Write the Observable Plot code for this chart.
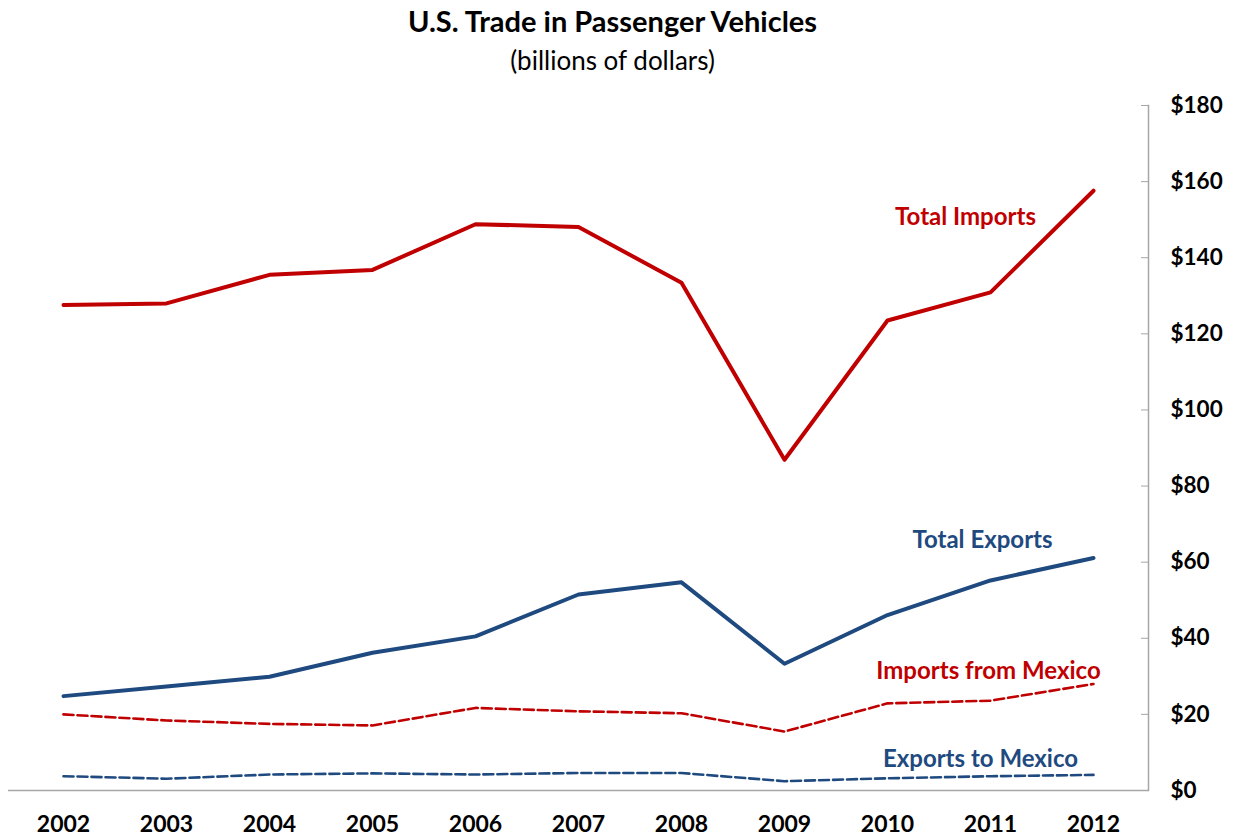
<!DOCTYPE html>
<html>
<head>
<meta charset="utf-8">
<script src="https://cdn.jsdelivr.net/npm/d3@7"></script>
<script src="https://cdn.jsdelivr.net/npm/@observablehq/plot@0.6"></script>
<style>
  html, body { margin: 0; padding: 0; background: #fff; }
  #wrap { width: 1233px; height: 837px; position: relative; font-family: Lato, "Liberation Sans", sans-serif; }
  #head { height: 85px; position: relative; }
  #title { position: absolute; left: 0; width: 1225px; top: 3px; line-height: 36px; text-align: center; font-weight: bold; font-size: 29px; color: #000; }
  #sub { position: absolute; left: 0; width: 1225px; top: 44px; line-height: 32px; text-align: center; font-size: 26px; color: #000; }
  svg { display: block; }
</style>
</head>
<body>
<div id="wrap">
  <div id="head">
    <div id="title">U.S. Trade in Passenger Vehicles</div>
    <div id="sub">(billions of dollars)</div>
  </div>
  <div id="chart"></div>
</div>
<script>
const years = ["2002","2003","2004","2005","2006","2007","2008","2009","2010","2011","2012"];
const totalImports  = [127.6, 128.0, 135.5, 136.8, 148.8, 148.1, 133.4, 86.9, 123.5, 130.9, 157.6];
const totalExports  = [24.8, 27.3, 29.9, 36.2, 40.5, 51.5, 54.7, 33.3, 46.1, 55.2, 61.1];
const importsMexico = [20.0, 18.4, 17.5, 17.1, 21.7, 20.8, 20.3, 15.5, 22.9, 23.6, 28.0];
const exportsMexico = [3.75, 3.1, 4.2, 4.5, 4.2, 4.6, 4.6, 2.45, 3.2, 3.75, 4.1];
const seriesNames = ["Total Imports", "Total Exports", "Imports from Mexico", "Exports to Mexico"];
const labelYear = "2011";
const labelValues = [150.6, 65.7, 31.3, 8.1];
const yTicks = [0, 20, 40, 60, 80, 100, 120, 140, 160, 180];

const RED = "#c00000";
const BLUE = "#1f4a80";
const GRID = "#a6a6a6";

const rows = (vals) => years.map((y, i) => ({year: y, value: vals[i]}));

const chart = Plot.plot({
  width: 1233,
  height: 752,
  marginTop: 20,
  marginBottom: 47,
  marginLeft: 8,
  marginRight: 85,
  style: {fontFamily: "Lato, 'Liberation Sans', sans-serif", background: "white"},
  x: {type: "point", domain: years, padding: 0.5, label: null},
  y: {domain: [0, 180], label: null},
  marks: [
    Plot.ruleY([0], {stroke: GRID, strokeWidth: 1.5}),
    Plot.frame({anchor: "right", stroke: GRID, strokeWidth: 1.5}),
    Plot.axisY({anchor: "right", ticks: yTicks, tickSize: 8, dx: -8, tickPadding: 22,
      stroke: GRID, tickFormat: d => "$" + d, fontSize: 22.5, fontWeight: "bold", fill: "#000", label: null}),
    Plot.axisX({tickSize: 0, tickPadding: 25, fontSize: 23, fontWeight: "bold", fill: "#000", label: null}),
    Plot.line(rows(exportsMexico), {x: "year", y: "value", stroke: BLUE, strokeWidth: 2.6, strokeDasharray: "10,4"}),
    Plot.line(rows(importsMexico), {x: "year", y: "value", stroke: RED, strokeWidth: 2.6, strokeDasharray: "10,4"}),
    Plot.line(rows(totalExports), {x: "year", y: "value", stroke: BLUE, strokeWidth: 4}),
    Plot.line(rows(totalImports), {x: "year", y: "value", stroke: RED, strokeWidth: 4}),
    Plot.text([{name: seriesNames[0], v: labelValues[0]}], {x: () => labelYear, y: "v", text: "name", dx: -25, fill: RED, fontSize: 24, fontWeight: "bold"}),
    Plot.text([{name: seriesNames[1], v: labelValues[1]}], {x: () => labelYear, y: "v", text: "name", dx: -8, fill: BLUE, fontSize: 24, fontWeight: "bold"}),
    Plot.text([{name: seriesNames[2], v: labelValues[2]}], {x: () => labelYear, y: "v", text: "name", dx: -2, fill: RED, fontSize: 24, fontWeight: "bold"}),
    Plot.text([{name: seriesNames[3], v: labelValues[3]}], {x: () => labelYear, y: "v", text: "name", dx: -10, fill: BLUE, fontSize: 24, fontWeight: "bold"})
  ]
});
document.getElementById("chart").appendChild(chart);
</script>
</body>
</html>
